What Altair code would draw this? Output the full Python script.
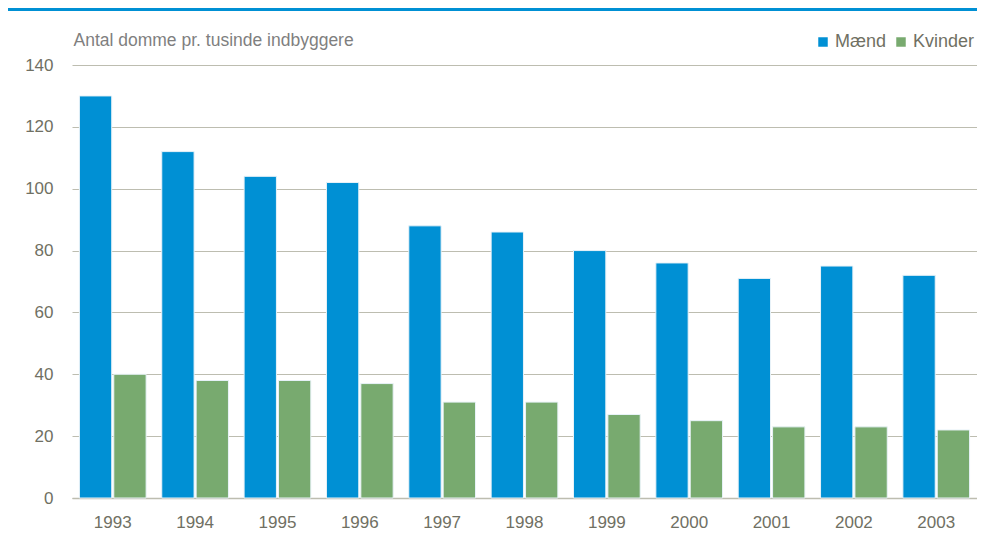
import altair as alt
import pandas as pd

years = ["1993", "1994", "1995", "1996", "1997", "1998", "1999", "2000", "2001", "2002", "2003"]
maend = [130, 112, 104, 102, 88, 86, 80, 76, 71, 75, 72]
kvinder = [40, 38, 38, 37, 31, 31, 27, 25, 23, 23, 22]
series = ["Mænd", "Kvinder"]
colors = ["#0090D4", "#78AA6F"]

rows = []
for i, y in enumerate(years):
    rows.append({"year": y, "serie": series[0], "value": maend[i]})
    rows.append({"year": y, "serie": series[1], "value": kvinder[i]})
df = pd.DataFrame(rows)

FONT = "Liberation Sans, Arial, sans-serif"
W, H = 905, 433

bars = alt.Chart(df).mark_bar(stroke="#E8F2F8", strokeWidth=1).encode(
    x=alt.X("year:N", sort=years, title=None,
            scale=alt.Scale(paddingInner=0.19, paddingOuter=0.09),
            axis=alt.Axis(labelAngle=0, ticks=False, domain=True, domainColor="#BDBDB0",
                          domainWidth=1.5, labelPadding=16, labelFontSize=17,
                          labelColor="#707063", labelFont=FONT, grid=False)),
    xOffset=alt.XOffset("serie:N", sort=series, scale=alt.Scale(paddingInner=0.06)),
    y=alt.Y("value:Q", scale=alt.Scale(domain=[0, 140]),
            axis=alt.Axis(values=[0, 20, 40, 60, 80, 100, 120, 140], ticks=False, domain=False,
                          gridColor="#BDBDB0", gridWidth=1.2, labelPadding=19,
                          labelFontSize=17, labelColor="#707063", labelFont=FONT,
                          title="Antal domme pr. tusinde indbyggere", titleAngle=0,
                          titleAlign="left", titleBaseline="alphabetic", titleX=1, titleY=-20,
                          titleFont=FONT, titleFontSize=17.5, titleFontWeight="normal",
                          titleColor="#7F7F7F")),
    color=alt.Color("serie:N", sort=series, scale=alt.Scale(domain=series, range=colors),
                    legend=alt.Legend(title=None, orient="none", direction="horizontal",
                                      legendX=742, legendY=-32, padding=0, symbolType="square",
                                      symbolSize=90, symbolStrokeWidth=0, labelFont=FONT,
                                      labelFontSize=18, labelColor="#707063",
                                      columnPadding=5, labelOffset=3)),
)

topline = alt.Chart(df).mark_rule(color="#0090D4", strokeWidth=3).encode(
    x=alt.value(-66), x2=alt.value(W), y=alt.value(-55.5)
)

chart = alt.layer(bars, topline).properties(
    width=W, height=H,
    autosize=alt.AutoSizeParams(type="none"),
    padding={"left": 64, "top": 57, "right": 0, "bottom": 33},
).configure_view(stroke=None)

chart.save("out.html", embed_options={"renderer": "svg", "actions": False})
